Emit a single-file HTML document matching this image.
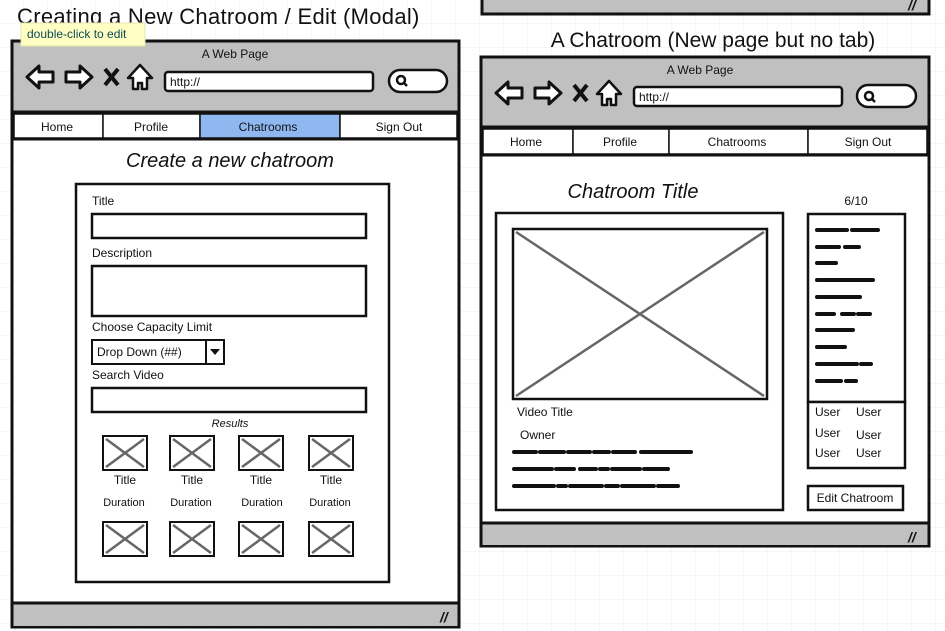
<!DOCTYPE html>
<html><head><meta charset="utf-8"><style>
html,body{margin:0;padding:0;background:#fff;width:945px;height:631px;overflow:hidden}
svg{display:block}
text{font-family:"Liberation Sans",sans-serif;fill:#111}
</style></head><body>
<svg width="945" height="631" viewBox="0 0 945 631" xmlns="http://www.w3.org/2000/svg">
<defs>
<pattern id="grid" width="24" height="24" patternUnits="userSpaceOnUse">
<path d="M24 0V24H0" fill="none" stroke="#ececec" stroke-width="1"/>
</pattern>
<g id="icons">
<polygon points="15,36 27,25 27,31 41,31 41,41 27,41 27,47" fill="#fff" stroke="#111" stroke-width="3" stroke-linejoin="round"/>
<polygon points="80,36 68,25 68,31 54,31 54,41 68,41 68,47" fill="#fff" stroke="#111" stroke-width="3" stroke-linejoin="round"/>
<path d="M93,28 L106,44 M106,28 L93,44" stroke="#111" stroke-width="4"/>
<polygon points="128,24 140,37 135,37 135,48 130,48 130,42 126,42 126,48 121,48 121,37 116,37" fill="#fff" stroke="#111" stroke-width="2.5" stroke-linejoin="round"/>
</g>
<g id="thumb">
<rect x="0" y="0" width="44" height="34" fill="#fff" stroke="#111" stroke-width="2"/>
<path d="M3,3 L41,31 M41,3 L3,31" stroke="#666" stroke-width="2.5"/>
</g>
</defs>
<rect width="945" height="631" fill="url(#grid)"/>

<!-- top partial window -->
<rect x="482" y="-4" width="447" height="18" fill="#c0c0c0" stroke="#111" stroke-width="3"/>
<text x="908" y="10" font-size="14" font-weight="bold" font-style="italic">//</text>

<!-- LEFT WINDOW -->
<text x="17" y="24" font-size="22" style="letter-spacing:0.3px">Creating a New Chatroom / Edit (Modal)</text>
<g transform="translate(12,41)">
<rect x="0" y="0" width="447" height="586" fill="#fff" stroke="#111" stroke-width="3"/>
<rect x="1.5" y="1.5" width="444" height="70" fill="#c0c0c0"/>
<line x1="0" y1="71" x2="447" y2="71" stroke="#111" stroke-width="3"/>
<text x="223" y="17" font-size="12" text-anchor="middle">A Web Page</text>
<use href="#icons"/>
<rect x="153" y="31" width="208" height="19" rx="3" fill="#fff" stroke="#111" stroke-width="2.5"/>
<text x="158" y="45" font-size="12">http://</text>
<rect x="377" y="29" width="58" height="22" rx="11" fill="#fff" stroke="#111" stroke-width="2.5"/>
<circle cx="389" cy="39" r="4" fill="none" stroke="#111" stroke-width="2.5"/><line x1="392" y1="42" x2="395" y2="45" stroke="#111" stroke-width="2.5"/>
<rect x="2" y="73" width="89" height="24" fill="#fff" stroke="#111" stroke-width="1.5"/>
<rect x="91" y="73" width="97" height="24" fill="#fff" stroke="#111" stroke-width="1.5"/>
<rect x="188" y="73" width="140" height="24" fill="#8fb8f0" stroke="#111" stroke-width="1.5"/>
<rect x="328" y="73" width="117" height="24" fill="#fff" stroke="#111" stroke-width="1.5"/>
<line x1="0" y1="98" x2="447" y2="98" stroke="#111" stroke-width="3"/>
<text x="45" y="90" font-size="12" text-anchor="middle">Home</text>
<text x="139" y="90" font-size="12" text-anchor="middle">Profile</text>
<text x="256" y="90" font-size="12" text-anchor="middle">Chatrooms</text>
<text x="387" y="90" font-size="12" text-anchor="middle">Sign Out</text>
<rect x="1.5" y="562" width="444" height="23" fill="#c0c0c0"/>
<line x1="0" y1="562" x2="447" y2="562" stroke="#111" stroke-width="3"/>
<text x="428" y="581" font-size="14" font-weight="bold" font-style="italic">//</text>
</g>
<text x="230" y="167" font-size="20" font-style="italic" text-anchor="middle">Create a new chatroom</text>
<rect x="76" y="184" width="313" height="398" fill="#fff" stroke="#111" stroke-width="2.5"/>
<text x="92" y="205" font-size="12">Title</text>
<rect x="92" y="214" width="274" height="24" fill="#fff" stroke="#111" stroke-width="2.5"/>
<text x="92" y="257" font-size="12">Description</text>
<rect x="92" y="266" width="274" height="50" fill="#fff" stroke="#111" stroke-width="2.5"/>
<text x="92" y="331" font-size="12">Choose Capacity Limit</text>
<rect x="92" y="340" width="132" height="24" fill="#fff" stroke="#111" stroke-width="2"/>
<line x1="206" y1="340" x2="206" y2="364" stroke="#111" stroke-width="2"/>
<polygon points="210,349 220,349 215,355" fill="#111"/>
<text x="97" y="356" font-size="12">Drop Down (##)</text>
<text x="92" y="379" font-size="12">Search Video</text>
<rect x="92" y="388" width="274" height="24" fill="#fff" stroke="#111" stroke-width="2.5"/>
<text x="230" y="427" font-size="11" font-style="italic" text-anchor="middle">Results</text>
<use href="#thumb" x="103" y="436"/><use href="#thumb" x="170" y="436"/><use href="#thumb" x="239" y="436"/><use href="#thumb" x="309" y="436"/>
<text x="125" y="484" font-size="12" text-anchor="middle">Title</text>
<text x="192" y="484" font-size="12" text-anchor="middle">Title</text>
<text x="261" y="484" font-size="12" text-anchor="middle">Title</text>
<text x="331" y="484" font-size="12" text-anchor="middle">Title</text>
<text x="124" y="506" font-size="11" text-anchor="middle">Duration</text>
<text x="191" y="506" font-size="11" text-anchor="middle">Duration</text>
<text x="262" y="506" font-size="11" text-anchor="middle">Duration</text>
<text x="330" y="506" font-size="11" text-anchor="middle">Duration</text>
<use href="#thumb" x="103" y="522"/><use href="#thumb" x="170" y="522"/><use href="#thumb" x="239" y="522"/><use href="#thumb" x="309" y="522"/>

<!-- tooltip -->
<rect x="21" y="23" width="124" height="23" fill="#ffffc4" stroke="#e6e6b0" stroke-width="1"/>
<text x="27" y="38" font-size="12" style="fill:#0c4a55">double-click to edit</text>

<!-- RIGHT WINDOW -->
<text x="713" y="47" font-size="21" text-anchor="middle">A Chatroom (New page but no tab)</text>
<g transform="translate(481,57)">
<rect x="0" y="0" width="448" height="489" fill="#fff" stroke="#111" stroke-width="3"/>
<rect x="1.5" y="1.5" width="445" height="69" fill="#c0c0c0"/>
<line x1="0" y1="70" x2="448" y2="70" stroke="#111" stroke-width="3"/>
<text x="219" y="17" font-size="12" text-anchor="middle">A Web Page</text>
<use href="#icons"/>
<rect x="153" y="30" width="208" height="19" rx="3" fill="#fff" stroke="#111" stroke-width="2.5"/>
<text x="158" y="44" font-size="12">http://</text>
<rect x="376" y="28" width="59" height="22" rx="11" fill="#fff" stroke="#111" stroke-width="2.5"/>
<circle cx="388" cy="39" r="4" fill="none" stroke="#111" stroke-width="2.5"/><line x1="391" y1="42" x2="394" y2="45" stroke="#111" stroke-width="2.5"/>
<rect x="2" y="72" width="90" height="25" fill="#fff" stroke="#111" stroke-width="1.5"/>
<rect x="92" y="72" width="96" height="25" fill="#fff" stroke="#111" stroke-width="1.5"/>
<rect x="188" y="72" width="139" height="25" fill="#fff" stroke="#111" stroke-width="1.5"/>
<rect x="327" y="72" width="119" height="25" fill="#fff" stroke="#111" stroke-width="1.5"/>
<line x1="0" y1="98" x2="448" y2="98" stroke="#111" stroke-width="3"/>
<text x="45" y="89" font-size="12" text-anchor="middle">Home</text>
<text x="139" y="89" font-size="12" text-anchor="middle">Profile</text>
<text x="256" y="89" font-size="12" text-anchor="middle">Chatrooms</text>
<text x="387" y="89" font-size="12" text-anchor="middle">Sign Out</text>
<rect x="1.5" y="466" width="445" height="22" fill="#c0c0c0"/>
<line x1="0" y1="466" x2="448" y2="466" stroke="#111" stroke-width="3"/>
<text x="427" y="485" font-size="14" font-weight="bold" font-style="italic">//</text>
</g>
<text x="633" y="198" font-size="20" font-style="italic" text-anchor="middle">Chatroom Title</text>
<text x="856" y="205" font-size="12" text-anchor="middle">6/10</text>
<rect x="496" y="213" width="287" height="297" fill="#fff" stroke="#111" stroke-width="2.5"/>
<rect x="513" y="229" width="254" height="170" fill="#fff" stroke="#111" stroke-width="2.5"/>
<path d="M516,232 L764,396 M764,232 L516,396" stroke="#666" stroke-width="2.5"/>
<text x="517" y="416" font-size="12">Video Title</text>
<text x="520" y="439" font-size="12">Owner</text>
<g stroke="#111" stroke-width="4" stroke-linecap="round">
<path d="M514,452h22M540,452h24M568,452h22M594,452h15M613,452h22M641,452h50"/>
<path d="M514,469h38M556,469h18M580,469h16M600,469h8M612,469h28M644,469h24"/>
<path d="M514,486h40M558,486h8M570,486h32M606,486h12M622,486h32M658,486h20"/>
</g>
<rect x="808" y="214" width="97" height="188" fill="#fff" stroke="#111" stroke-width="2.5"/>
<rect x="808" y="402" width="97" height="66" fill="#fff" stroke="#111" stroke-width="2.5"/>
<g stroke="#111" stroke-width="4" stroke-linecap="round">
<path d="M817,230h30M852,230h26"/>
<path d="M817,247h22M845,247h14"/>
<path d="M817,263h19"/>
<path d="M817,280h56"/>
<path d="M817,297h43"/>
<path d="M817,314h17M842,314h12M858,314h12"/>
<path d="M817,330h36"/>
<path d="M817,347h28"/>
<path d="M817,364h40M861,364h10"/>
<path d="M817,381h24M846,381h10"/>
</g>
<text x="815" y="416" font-size="12">User</text><text x="856" y="416" font-size="12">User</text>
<text x="815" y="437" font-size="12">User</text><text x="856" y="439" font-size="12">User</text>
<text x="815" y="457" font-size="12">User</text><text x="856" y="457" font-size="12">User</text>
<rect x="808" y="486" width="95" height="24" fill="#fff" stroke="#111" stroke-width="2.5"/>
<text x="855" y="502" font-size="12" text-anchor="middle">Edit Chatroom</text>
</svg>
</body></html>
